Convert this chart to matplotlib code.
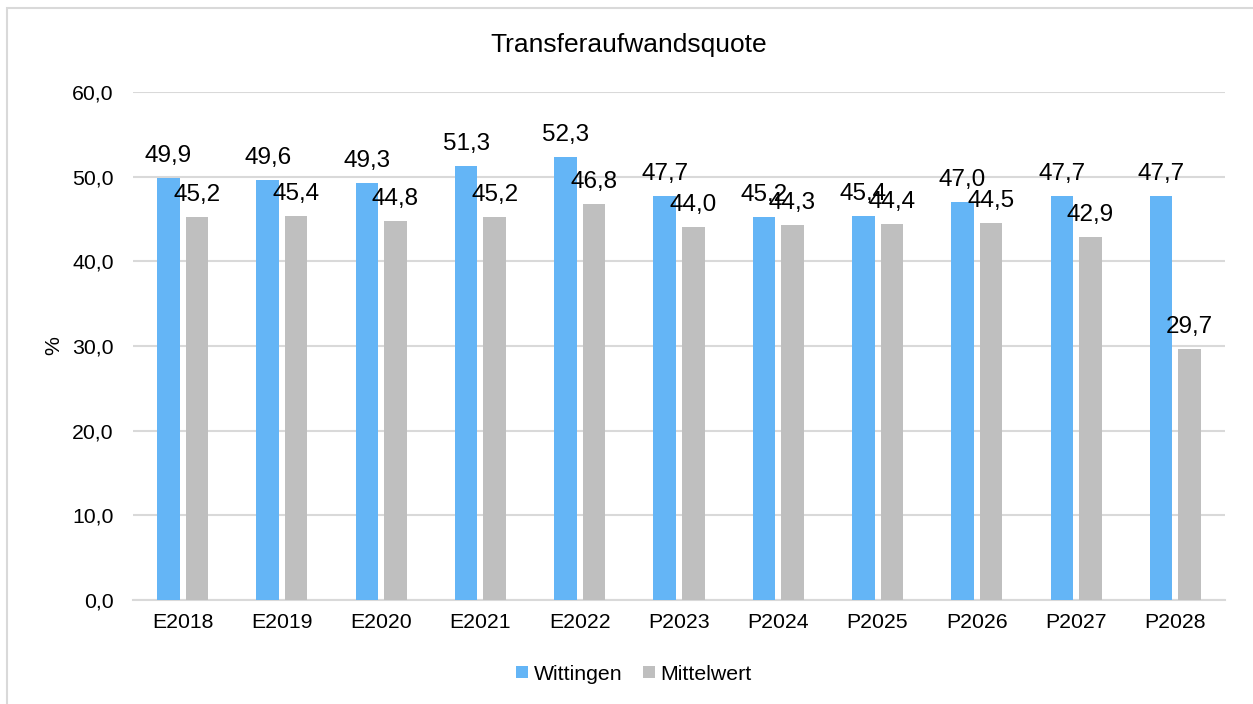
import numpy as np
import matplotlib
matplotlib.use('Agg')
import matplotlib.pyplot as plt
from matplotlib.patches import Rectangle

categories = ['E2018', 'E2019', 'E2020', 'E2021', 'E2022', 'P2023',
              'P2024', 'P2025', 'P2026', 'P2027', 'P2028']
wittingen = [49.9, 49.6, 49.3, 51.3, 52.3, 47.7, 45.2, 45.4, 47.0, 47.7, 47.7]
mittelwert = [45.2, 45.4, 44.8, 45.2, 46.8, 44.0, 44.3, 44.4, 44.5, 42.9, 29.7]
yticks = [0, 10, 20, 30, 40, 50, 60]

BLUE = '#64B5F6'
GREY = '#BFBFBF'
GRID = '#D9D9D9'


def de(v):
    return f'{v:.1f}'.replace('.', ',')


plt.rcParams['font.family'] = ['Liberation Sans', 'DejaVu Sans']
FS = 15.3      # axis / legend text
FS_LBL = 17.5  # data labels

fig = plt.figure(figsize=(12.53, 7.04), dpi=100)
W, H = 1253, 704
ax = fig.add_axes([133 / W, 1 - 600 / H, (1225 - 133) / W, (600 - 92) / H])

x = np.arange(len(categories))
bw = 0.227
gap = 0.06
off = (bw + gap) / 2
b1 = ax.bar(x - off, wittingen, bw, color=BLUE, label='Wittingen', zorder=3)
b2 = ax.bar(x + off, mittelwert, bw, color=GREY, label='Mittelwert', zorder=3)

for bars, vals in ((b1, wittingen), (b2, mittelwert)):
    for b, v in zip(bars, vals):
        ax.annotate(de(v), (b.get_x() + b.get_width() / 2, v),
                    xytext=(0, 11.5), textcoords='offset points',
                    ha='center', va='baseline', fontsize=FS_LBL, zorder=4)

ax.set_xlim(-0.5, len(categories) - 0.5)
ax.set_ylim(0, 60)
ax.set_yticks(yticks)
ax.set_yticklabels([de(t) for t in yticks], fontsize=FS)
ax.set_xticks(x)
ax.set_xticklabels(categories, fontsize=FS)
ax.tick_params(length=0)
ax.tick_params(axis='y', pad=14)
ax.tick_params(axis='x', pad=9)
ax.grid(axis='y', color=GRID, linewidth=1.5, zorder=0)
for s in ['top', 'right', 'left']:
    ax.spines[s].set_visible(False)
ax.spines['bottom'].set_color(GRID)
ax.spines['bottom'].set_linewidth(1.5)
ax.set_ylabel('%', fontsize=FS)
ax.yaxis.set_label_coords(-0.064, 0.5)

fig.text(629 / W, 1 - 45 / H, 'Transferaufwandsquote', ha='center', va='center', fontsize=19)

fig.legend(handles=[b1, b2], loc='center', bbox_to_anchor=(634 / W, 1 - 674 / H),
           ncol=2, frameon=False, fontsize=FS, handlelength=0.55, handleheight=0.55,
           handletextpad=0.25, columnspacing=1.0)

# chart border (only top/left fall inside the image)
fig.patches.append(Rectangle((7 / W, -0.1), 1.2, 1 - 8 / H + 0.1, transform=fig.transFigure,
                             fill=False, edgecolor=GRID, linewidth=1.5))

fig.savefig('out.png', dpi=100)
